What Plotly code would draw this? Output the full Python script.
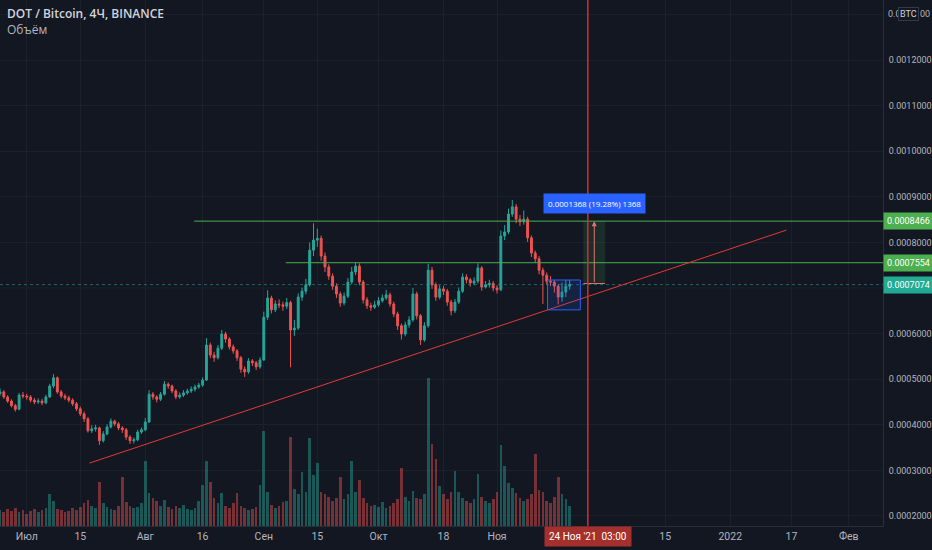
import pandas as pd
import plotly.graph_objects as go

# daily candles DOT/BTC, prices in BTC
start_day = "2021-06-24"
closes = [
    0.0004720, 0.0004610, 0.0004520, 0.0004420, 0.0004340, 0.0004650, 0.0004630, 0.0004610, 0.0004540, 0.0004500,
    0.0004520, 0.0004480, 0.0004610, 0.0004850, 0.0005030, 0.0004720, 0.0004630, 0.0004590, 0.0004540, 0.0004460,
    0.0004350, 0.0004240, 0.0004130, 0.0003870, 0.0003910, 0.0003930, 0.0003650, 0.0003800, 0.0003950, 0.0004080,
    0.0004020, 0.0003930, 0.0003890, 0.0003730, 0.0003650, 0.0003670, 0.0003840, 0.0003890, 0.0004060, 0.0004670,
    0.0004610, 0.0004560, 0.0004670, 0.0004890, 0.0004850, 0.0004740, 0.0004610, 0.0004650, 0.0004700, 0.0004740,
    0.0004780, 0.0004830, 0.0004870, 0.0004980, 0.0005750, 0.0005530, 0.0005470, 0.0005680, 0.0005990, 0.0005880,
    0.0005710, 0.0005620, 0.0005470, 0.0005220, 0.0005160, 0.0005400, 0.0005360, 0.0005270, 0.0005420, 0.0006360,
    0.0006780, 0.0006520, 0.0006650, 0.0006630, 0.0006600, 0.0006680, 0.0006080, 0.0006120, 0.0006800, 0.0006930,
    0.0007070, 0.0007830, 0.0008050, 0.0008090, 0.0007700, 0.0007460, 0.0007260, 0.0007040, 0.0006870, 0.0006670,
    0.0006820, 0.0007130, 0.0007350, 0.0007480, 0.0007130, 0.0006740, 0.0006610, 0.0006580, 0.0006630, 0.0006720,
    0.0006780, 0.0006850, 0.0006650, 0.0006430, 0.0006170, 0.0005990, 0.0006190, 0.0006300, 0.0006870, 0.0006390,
    0.0005860, 0.0006170, 0.0007390, 0.0007070, 0.0006800, 0.0006980, 0.0006930, 0.0006690, 0.0006500, 0.0006690,
    0.0006930, 0.0007240, 0.0007180, 0.0007110, 0.0007150, 0.0007440, 0.0007020, 0.0007070, 0.0007100, 0.0007000,
    0.0006960, 0.0008140, 0.0008230, 0.0008620, 0.0008780, 0.0008510, 0.0008450, 0.0008510, 0.0008100, 0.0007770,
    0.0007640, 0.0007390, 0.0007280, 0.0007150, 0.0007130, 0.0007040, 0.0006800, 0.0006910, 0.0007040, 0.0007074,
]
first_open = 0.0004680
highs = [
    0.0004800, 0.0004760, 0.0004650, 0.0004560, 0.0004460, 0.0004700, 0.0004720, 0.0004680, 0.0004650, 0.0004590,
    0.0004580, 0.0004570, 0.0004660, 0.0004900, 0.0005110, 0.0005060, 0.0004760, 0.0004680, 0.0004640, 0.0004580,
    0.0004500, 0.0004400, 0.0004290, 0.0004170, 0.0003990, 0.0004000, 0.0003960, 0.0003860, 0.0004010, 0.0004140,
    0.0004110, 0.0004060, 0.0003970, 0.0003930, 0.0003770, 0.0003720, 0.0003890, 0.0003940, 0.0004150, 0.0004760,
    0.0004720, 0.0004650, 0.0004720, 0.0004960, 0.0004930, 0.0004880, 0.0004780, 0.0004710, 0.0004760, 0.0004790,
    0.0004840, 0.0004880, 0.0004920, 0.0005040, 0.0005900, 0.0005800, 0.0005600, 0.0005750, 0.0006080, 0.0006040,
    0.0005920, 0.0005760, 0.0005660, 0.0005510, 0.0005280, 0.0005460, 0.0005440, 0.0005400, 0.0005480, 0.0006480,
    0.0006950, 0.0006830, 0.0006730, 0.0006750, 0.0006700, 0.0006780, 0.0006720, 0.0006300, 0.0006880, 0.0007010,
    0.0007200, 0.0008000, 0.0008420, 0.0008300, 0.0008150, 0.0007780, 0.0007520, 0.0007320, 0.0007100, 0.0006920,
    0.0006900, 0.0007220, 0.0007460, 0.0007560, 0.0007540, 0.0007170, 0.0006800, 0.0006680, 0.0006720, 0.0006800,
    0.0006860, 0.0006960, 0.0006900, 0.0006700, 0.0006480, 0.0006220, 0.0006260, 0.0006380, 0.0007000, 0.0006920,
    0.0006430, 0.0006250, 0.0007530, 0.0007460, 0.0007120, 0.0007060, 0.0007050, 0.0006980, 0.0006740, 0.0006760,
    0.0007010, 0.0007320, 0.0007300, 0.0007220, 0.0007230, 0.0007540, 0.0007480, 0.0007150, 0.0007180, 0.0007150,
    0.0007060, 0.0008260, 0.0008380, 0.0008740, 0.0008930, 0.0008840, 0.0008600, 0.0008700, 0.0008560, 0.0008150,
    0.0007820, 0.0007700, 0.0007450, 0.0007340, 0.0007260, 0.0007180, 0.0007080, 0.0007120, 0.0007180, 0.0007180,
]
lows = [
    0.0004640, 0.0004570, 0.0004480, 0.0004380, 0.0004290, 0.0004320, 0.0004580, 0.0004550, 0.0004490, 0.0004450,
    0.0004460, 0.0004430, 0.0004450, 0.0004590, 0.0004800, 0.0004680, 0.0004580, 0.0004540, 0.0004490, 0.0004410,
    0.0004300, 0.0004190, 0.0004060, 0.0003830, 0.0003820, 0.0003850, 0.0003560, 0.0003610, 0.0003770, 0.0003920,
    0.0003970, 0.0003880, 0.0003820, 0.0003670, 0.0003580, 0.0003590, 0.0003640, 0.0003800, 0.0003860, 0.0004040,
    0.0004550, 0.0004490, 0.0004520, 0.0004640, 0.0004790, 0.0004690, 0.0004560, 0.0004570, 0.0004610, 0.0004660,
    0.0004700, 0.0004730, 0.0004790, 0.0004830, 0.0004960, 0.0005460, 0.0005380, 0.0005430, 0.0005640, 0.0005800,
    0.0005650, 0.0005560, 0.0005400, 0.0005140, 0.0005050, 0.0005120, 0.0005290, 0.0005200, 0.0005230, 0.0005400,
    0.0006300, 0.0006440, 0.0006470, 0.0006560, 0.0006500, 0.0006540, 0.0005260, 0.0005950, 0.0006080, 0.0006720,
    0.0006860, 0.0007030, 0.0007700, 0.0007900, 0.0007600, 0.0007350, 0.0007180, 0.0006960, 0.0006780, 0.0006590,
    0.0006620, 0.0006780, 0.0007080, 0.0007280, 0.0007060, 0.0006660, 0.0006540, 0.0006500, 0.0006540, 0.0006590,
    0.0006680, 0.0006740, 0.0006590, 0.0006360, 0.0006080, 0.0005870, 0.0005940, 0.0006130, 0.0006260, 0.0006310,
    0.0005750, 0.0005820, 0.0006130, 0.0006980, 0.0006720, 0.0006750, 0.0006850, 0.0006610, 0.0006400, 0.0006450,
    0.0006650, 0.0006890, 0.0007100, 0.0007030, 0.0007060, 0.0007100, 0.0006940, 0.0006990, 0.0007010, 0.0006930,
    0.0006880, 0.0006930, 0.0008050, 0.0008180, 0.0008560, 0.0008420, 0.0008360, 0.0008390, 0.0008010, 0.0007680,
    0.0007550, 0.0007300, 0.0006650, 0.0007080, 0.0007040, 0.0006900, 0.0006640, 0.0006700, 0.0006800, 0.0006960,
]
# volume, thousand DOT per day
volume = [
    14, 12, 15, 13, 16, 12, 14, 11, 13, 15, 12, 14, 16, 28, 22, 15, 14, 12, 13, 16,
    14, 17, 20, 23, 18, 16, 39, 20, 17, 15, 14, 18, 43, 21, 18, 16, 17, 20, 58, 29,
    25, 22, 18, 23, 17, 15, 18, 16, 19, 15, 14, 16, 22, 36, 58, 39, 25, 20, 29, 18,
    16, 20, 29, 18, 16, 14, 15, 17, 36, 84, 30, 19, 16, 18, 21, 22, 79, 33, 28, 48,
    30, 78, 45, 56, 30, 28, 26, 22, 25, 43, 24, 28, 58, 30, 41, 25, 20, 18, 19, 17,
    21, 16, 18, 20, 24, 51, 26, 22, 31, 25, 24, 28, 131, 73, 59, 35, 28, 24, 30, 49,
    30, 25, 22, 20, 24, 46, 26, 22, 20, 24, 30, 72, 53, 38, 34, 29, 25, 22, 24, 28,
    64, 32, 30, 22, 20, 26, 43, 28, 24, 18,
]

# drawings on the chart
trend_x = ["2021-07-17 10:00", "2022-01-15 17:00"]
trend_y = [0.000316, 0.000827]
level_hi, level_hi_from = 0.0008466, "2021-08-13 19:00"
level_lo, level_lo_from = 0.0007554, "2021-09-06 18:00"
last_price = 0.0007074
box_x = ["2021-11-14 05:00", "2021-11-22 19:00"]
box_y = [0.000652, 0.0007175]
range_x = ["2021-11-23 14:00", "2021-11-29 07:00"]
range_y = [0.0007098, 0.0008466]
range_text = "0.0001368 (19.28%) 1368"
cursor_time = "2021-11-24 18:00"
cursor_label = "24 Ноя '21  03:00"

x_start, x_end = "2021-06-24 00:00", "2022-02-09 23:00"
y_min, y_max = 0.000178, 0.0013316
# 0.0007 sits under the last-price tag, 0.0013 under the BTC badge
price_ticks = [0.0002, 0.0003, 0.0004, 0.0005, 0.0006, 0.0008, 0.0009, 0.0010, 0.0011, 0.0012]
hidden_tick = 0.0007
top_tick = 0.0013
date_ticks = ["2021-07-01", "2021-07-15", "2021-08-01", "2021-08-16", "2021-09-01", "2021-09-15",
              "2021-10-01", "2021-10-18", "2021-11-01", "2021-12-15",
              "2022-01-01", "2022-01-17", "2022-02-01"]
date_labels = ["Июл", "15", "Авг", "16", "Сен", "15", "Окт", "18", "Ноя", "15",
               "2022", "17", "Фев"]

bg = "#131722"
grid = "#1c202b"
txt = "#b2b5be"
up, down = "#26a69a", "#ef5350"
axis_font = dict(size=9, color=txt, family="Roboto")

days = pd.date_range(start_day, periods=len(closes), freq="D")
opens = [first_open] + closes[:-1]
vol_colors = ["rgba(38,166,154,0.45)" if c >= o else "rgba(239,83,80,0.45)"
              for o, c in zip(opens, closes)]

fig = go.Figure()
fig.add_trace(go.Bar(
    x=days, y=volume, yaxis="y2", marker_color=vol_colors, marker_line_width=0,
    width=86400000 * 0.7, hoverinfo="skip"))
fig.add_trace(go.Candlestick(
    x=days, open=opens, high=highs, low=lows, close=closes,
    increasing=dict(line=dict(color=up, width=1), fillcolor=up),
    decreasing=dict(line=dict(color=down, width=1), fillcolor=down),
    whiskerwidth=0))

shapes = [
    # grid rows whose labels are covered
    dict(type="line", xref="paper", x0=0, x1=1, yref="y", y0=hidden_tick, y1=hidden_tick,
         line=dict(color=grid, width=1), layer="below"),
    dict(type="line", xref="paper", x0=0, x1=1, yref="y", y0=top_tick, y1=top_tick,
         line=dict(color=grid, width=1), layer="below"),
    # last price line
    dict(type="line", xref="paper", x0=0, x1=1, yref="y", y0=last_price, y1=last_price,
         line=dict(color="rgba(38,166,154,0.55)", width=1, dash="dot")),
    dict(type="line", xref="x", x0=level_hi_from, x1=x_end, yref="y", y0=level_hi, y1=level_hi,
         line=dict(color="#4caf50", width=1)),
    dict(type="line", xref="x", x0=level_lo_from, x1=x_end, yref="y", y0=level_lo, y1=level_lo,
         line=dict(color="#4caf50", width=1)),
    dict(type="line", xref="x", x0=trend_x[0], x1=trend_x[1], yref="y", y0=trend_y[0], y1=trend_y[1],
         line=dict(color="#e53935", width=1)),
    dict(type="rect", xref="x", x0=box_x[0], x1=box_x[1], yref="y", y0=box_y[0], y1=box_y[1],
         line=dict(color="#2962ff", width=1), fillcolor="rgba(41,98,255,0.15)"),
    dict(type="rect", xref="x", x0=range_x[0], x1=range_x[1], yref="y", y0=range_y[0], y1=range_y[1],
         line=dict(width=0), fillcolor="rgba(76,175,80,0.15)"),
    dict(type="line", xref="x", x0=range_x[0], x1=range_x[1], yref="y", y0=range_y[0], y1=range_y[0],
         line=dict(color="#e57373", width=1)),
    # vertical cursor line
    dict(type="line", xref="x", x0=cursor_time, x1=cursor_time, yref="paper", y0=0, y1=1,
         line=dict(color="#d32f2f", width=1.5)),
]

mid_range_x = pd.Timestamp(range_x[0]) + (pd.Timestamp(range_x[1]) - pd.Timestamp(range_x[0])) / 2
top_txt = f"{top_tick:.7f}"

annotations = [
    dict(text="DOT / Bitcoin, 4Ч, BINANCE", xref="paper", yref="paper", x=0.006, y=0.974,
         xanchor="left", yanchor="middle", showarrow=False,
         font=dict(size=12, color="#d1d4dc", family="Open Sans", weight=600)),
    dict(text="Объём", xref="paper", yref="paper", x=0.006, y=0.944,
         xanchor="left", yanchor="middle", showarrow=False,
         font=dict(size=12, color=txt, family="Open Sans")),
    # measurement arrow
    dict(x=mid_range_x, y=range_y[1], ax=mid_range_x, ay=range_y[0], xref="x", yref="y",
         axref="x", ayref="y", text="", showarrow=True, arrowhead=2, arrowsize=1,
         arrowwidth=1, arrowcolor="#e57373"),
    dict(x=mid_range_x, y=range_y[1], xref="x", yref="y", yshift=18, text=range_text,
         showarrow=False, bgcolor="#2962ff", borderpad=4,
         font=dict(size=8, color="white", family="Open Sans")),
    # cursor time label
    dict(x=cursor_time, xref="x", y=0, yref="paper", yanchor="top", text=cursor_label,
         showarrow=False, bgcolor="#a52f2c", borderpad=4,
         font=dict(size=10, color="white", family="Roboto")),
    # top price label, split around the BTC badge
    dict(text=top_txt[:3], xref="paper", x=1.0, xanchor="left", xshift=3, y=top_tick, yref="y",
         showarrow=False, font=axis_font),
    dict(text="BTC", xref="paper", x=1.0, xanchor="left", xshift=15, y=top_tick, yref="y",
         showarrow=False, bgcolor=bg, bordercolor="#363a45", borderwidth=1, borderpad=1,
         font=dict(size=9, color="#d1d4dc", family="Roboto")),
    dict(text=top_txt[-2:], xref="paper", x=1.0, xanchor="left", xshift=35, y=top_tick, yref="y",
         showarrow=False, font=axis_font),
]
for val, col in [(level_hi, "#4caf50"), (level_lo, "#4caf50"), (last_price, "#22ab94")]:
    annotations.append(dict(
        text=f"{val:.7f}", xref="paper", x=1.0, xanchor="left", xshift=0, y=val, yref="y",
        showarrow=False, bgcolor=col, borderpad=3,
        font=dict(size=9, color="white", family="Roboto")))

fig.update_layout(
    width=932, height=550,
    margin=dict(l=0, r=49, t=0, b=24),
    paper_bgcolor=bg, plot_bgcolor=bg,
    showlegend=False,
    bargap=0,
    font=dict(family="Open Sans", size=11, color=txt),
    xaxis=dict(
        type="date", range=[x_start, x_end], rangeslider=dict(visible=False),
        tickvals=date_ticks, ticktext=date_labels, showgrid=True, gridcolor=grid,
        showline=True, linecolor="#2a2e39", ticks="", zeroline=False, automargin=False,
        tickfont=dict(size=10.5, color=txt, family="Roboto"),
    ),
    yaxis=dict(
        side="right", range=[y_min, y_max], tickvals=price_ticks, tickformat=".7f",
        showgrid=True, gridcolor=grid, showline=True, linecolor="#2a2e39", ticks="",
        zeroline=False, tickfont=axis_font, ticklabelstandoff=3, automargin=False,
    ),
    yaxis2=dict(overlaying="y", range=[0, 466], visible=False, fixedrange=True),
    shapes=shapes,
    annotations=annotations,
)

fig.write_html("out.html", config={"displayModeBar": False},
               post_script="document.body.style.margin='0';")
